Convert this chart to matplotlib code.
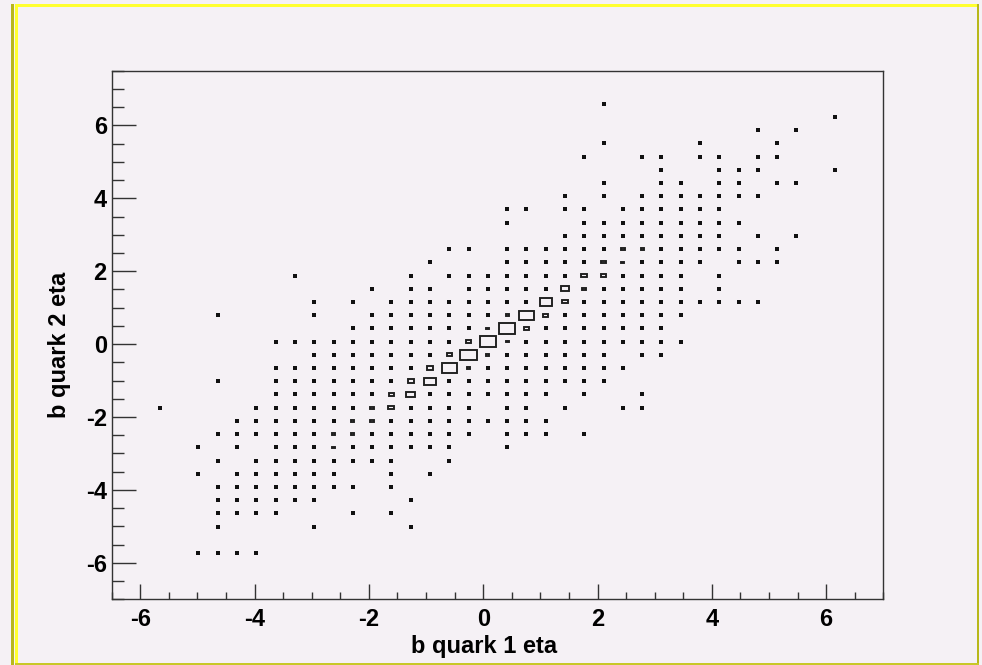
import numpy as np
import matplotlib.pyplot as plt
from matplotlib.patches import Rectangle
from matplotlib.collections import PatchCollection

plt.rcParams['font.family'] = ['Liberation Sans', 'DejaVu Sans']
plt.rcParams['font.weight'] = 'bold'
plt.rcParams['axes.unicode_minus'] = False

# 40 x 40 binning of the 2D histogram
eta1_edges = np.linspace(-6.5, 7.0, 41)
eta2_edges = np.linspace(-7.0, 7.5, 41)

# bin contents, one string per eta2 bin (top row first), one char per eta1 bin
# '.' = empty, otherwise count in base 36 (a=10, e=14, g=16, l=21, n=23, p=25, q=26, r=27)
rows = [
    "........................................",
    "........................................",
    ".........................1..............",
    ".....................................1..",
    ".................................1.1....",
    ".........................1....1...1.....",
    "........................1..11.11.11.....",
    "............................1..111...1..",
    ".........................1..11.11.11....",
    ".......................1.1.1111111......",
    "....................11.11.111111........",
    "....................1...111111111.......",
    ".......................111111111.1.1....",
    ".................11.1111113211111.1.....",
    "................1...11111321111.111.....",
    ".........1.....1.1111111531111.1........",
    ".............1.11.111119311111.1........",
    "..........1.1.11111111g41111111111......",
    ".....1....1..11111112l41111111..........",
    "............11111112r41111111...........",
    "........11111111113p2111111111..........",
    "..........11111114q2111111.11...........",
    "........111111116n211111111.............",
    ".....1..11111115e111111111..............",
    "........1111113a1111111.1..1............",
    "..1....111111351111.11.1..11............",
    "......11111123111111111.................",
    ".....11111122111111.111.1...............",
    "....1.1.1112111111..1...................",
    ".....1.11111111..1......................",
    "....1.111111..1.1.......................",
    ".....11111111.1.........................",
    ".....111111....1........................",
    ".....1111...1.1.........................",
    ".....1....1....1........................",
    "........................................",
    "....1111................................",
    "........................................",
    "........................................",
    "........................................",
]

counts = np.array([[0 if ch == '.' else int(ch, 36) for ch in r] for r in rows[::-1]])

bg = '#f5f1f5'
W, H = 982.0, 665.0
fig = plt.figure(figsize=(W / 100, H / 100), dpi=100, facecolor=bg)
ax = fig.add_axes([0.1137, 0.0988, 0.7858, 0.7949], facecolor=bg)

# ROOT "BOX" style: box area proportional to bin content
dx = np.diff(eta1_edges)[0]
dy = np.diff(eta2_edges)[0]
xc = 0.5 * (eta1_edges[:-1] + eta1_edges[1:])
yc = 0.5 * (eta2_edges[:-1] + eta2_edges[1:])
px_x = (eta1_edges[-1] - eta1_edges[0]) / (0.7858 * W)   # data units per pixel
px_y = (eta2_edges[-1] - eta2_edges[0]) / (0.7949 * H)
lw_px = 1.9
cmax = counts.max()

# single entries come out as tiny filled squares
k1, i1 = np.nonzero(counts == 1)
ax.scatter(xc[i1], yc[k1], marker='s', s=5.5, color='#111111', linewidths=0)

boxes = []
for k, i in zip(*np.nonzero(counts > 1)):
    f = 0.96 * np.sqrt(counts[k, i] / cmax)
    w = max(f * dx / px_x, 3.4) - lw_px
    h = max(f * dy / px_y, 3.4) - lw_px
    w, h = max(w, 0.2) * px_x, max(h, 0.2) * px_y
    boxes.append(Rectangle((xc[i] - 0.5 * w, yc[k] - 0.5 * h), w, h))
ax.add_collection(PatchCollection(boxes, facecolor='none', edgecolor='#1e1e1e',
                                  linewidth=lw_px * 0.72, joinstyle='miter'))

ax.set_xlim(eta1_edges[0], eta1_edges[-1])
ax.set_ylim(eta2_edges[0], eta2_edges[-1])
ax.set_xticks(np.arange(-6, 7, 2))
ax.set_yticks(np.arange(-6, 7, 2))
ax.set_xticks(np.arange(-6.5, 7.01, 0.5), minor=True)
ax.set_yticks(np.arange(-7, 7.51, 0.5), minor=True)
ax.tick_params(axis='both', which='both', direction='in', colors='#333333',
               labelcolor='black', labelsize=17, width=1.0)
ax.tick_params(axis='x', which='major', length=11, pad=6)
ax.tick_params(axis='x', which='minor', length=5.3)
ax.tick_params(axis='y', which='major', length=17, pad=3.5)
ax.tick_params(axis='y', which='minor', length=8.6)
for s in ax.spines.values():
    s.set_color('#333333')
    s.set_linewidth(1.0)

ax.set_xlabel("b quark 1 eta", fontsize=17, fontweight='bold')
ax.set_ylabel("b quark 2 eta", fontsize=17, fontweight='bold')
ax.xaxis.set_label_coords(0.482, -0.090)
ax.xaxis.label.set_va('center')
ax.yaxis.set_label_coords(-0.067, 0.481)
ax.yaxis.label.set_va('center')

# yellow canvas border
def frame_rect(x0, y0, x1, y1, color):
    fig.add_artist(Rectangle((x0 / W, 1 - y1 / H), (x1 - x0) / W, (y1 - y0) / H,
                             transform=fig.transFigure, color=color, lw=0))
frame_rect(11, 4, 13.5, 665, '#b8b81a')
frame_rect(15, 4, 18, 665, '#ffff30')
frame_rect(15, 4, 979, 7, '#ffff30')
frame_rect(976.5, 4, 979, 665, '#b8b81a')
frame_rect(15, 662.5, 979, 665, '#c8c828')

fig.savefig("out.png", dpi=100, facecolor=bg)
